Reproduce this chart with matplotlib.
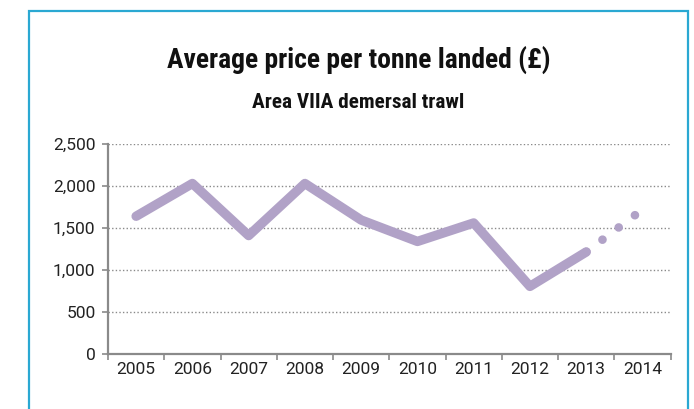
import numpy as np
import matplotlib
matplotlib.use('Agg')
import matplotlib.pyplot as plt
import matplotlib.patches as patches
from matplotlib import font_manager
from matplotlib.font_manager import FontProperties
from matplotlib.ticker import FixedLocator, FuncFormatter

# chart data
years = ['2005', '2006', '2007', '2008', '2009', '2010', '2011', '2012', '2013', '2014']
price = [1640, 2030, 1410, 2030, 1595, 1340, 1560, 805, 1215]   # 2005-2013, solid
forecast = [1215, 1720]                                         # 2013-2014, dotted
y_ticks = [0, 500, 1000, 1500, 2000, 2500]

title = 'Average price per tonne landed (£)'
subtitle = 'Area VIIA demersal trawl'

line_col = '#b1a2c7'
grid_col = '#8a8a8a'
box_col = '#2aa8d2'
tick_font = ['Roboto', 'DejaVu Sans']


# pick the narrowest bold face that is installed for the titles
def pick_title_font():
    fonts = font_manager.fontManager.ttflist
    for fam in ['Liberation Sans Narrow', 'Roboto Condensed', 'Open Sans Condensed',
                'Noto Sans', 'DejaVu Sans']:
        for f in fonts:
            st = f.stretch if isinstance(f.stretch, int) else 500
            cond = ('condensed' in str(f.stretch)) or st < 500 or 'Narrow' in f.name
            wt = f.weight if isinstance(f.weight, int) else (700 if 'bold' in str(f.weight) else 400)
            if f.name == fam and cond and wt >= 600:
                return FontProperties(fname=f.fname)
    return FontProperties(family=['Roboto', 'DejaVu Sans'], weight='bold')


title_fp = pick_title_font()

W, H = 694, 409
fig = plt.figure(figsize=(W / 100, H / 100), dpi=100)

# blue frame round the chart (bottom edge runs off the picture)
fig.patches.append(patches.Rectangle((29 / W, -0.05), (688 - 29) / W, 1.05 - 11 / H,
                                     transform=fig.transFigure, fill=False,
                                     edgecolor=box_col, linewidth=1.6))

t1 = fig.text(358.5 / W, 1 - 68.3 / H, title, ha='center', va='baseline',
              fontproperties=title_fp, fontsize=18.5, color='#111111')
t2 = fig.text(358.5 / W, 1 - 108.3 / H, subtitle, ha='center', va='baseline',
              fontproperties=title_fp, fontsize=13.5, color='#111111')

# fit the titles to the width they have in the reference
renderer = fig.canvas.get_renderer()
for t, target, size in [(t1, 385, 18.5), (t2, 213, 13.5)]:
    w = t.get_window_extent(renderer).width
    t.set_fontsize(size * target / w)

ax = fig.add_axes([108 / W, 1 - 354 / H, (670.6 - 108) / W, (354 - 144) / H])

x = np.arange(len(price))
ax.plot(x, price, color=line_col, linewidth=6.8, solid_capstyle='round',
        solid_joinstyle='round', zorder=3)
xf = np.arange(len(price) - 1, len(price) - 1 + len(forecast))
ax.plot(xf, forecast, color=line_col, linewidth=6.2, linestyle=(0, (0.01, 2.35)),
        dash_capstyle='round', zorder=3)

ax.set_xlim(-0.5, len(years) - 0.5)
ax.set_ylim(0, 2500)

# grid lines
for v in y_ticks[1:]:
    ax.axhline(v, color=grid_col, linewidth=1.0, linestyle=(0, (1, 1.6)), zorder=1)

ax.set_yticks(y_ticks)
ax.yaxis.set_major_formatter(FuncFormatter(lambda v, p: f'{int(v):,}'))
ax.xaxis.set_major_locator(FixedLocator(np.arange(len(years) + 1) - 0.5))
ax.xaxis.set_major_formatter(FuncFormatter(lambda v, p: ''))
ax.xaxis.set_minor_locator(FixedLocator(np.arange(len(years))))
ax.set_xticklabels(years, minor=True)

ax.tick_params(axis='x', which='major', length=4, width=1.2, color=grid_col, direction='out')
ax.tick_params(axis='x', which='minor', length=0, pad=6)
ax.tick_params(axis='y', length=4, width=1.2, color=grid_col, pad=5)
for lab in ax.get_xticklabels(minor=True) + ax.get_yticklabels():
    lab.set_family(tick_font)
    lab.set_fontsize(12.5)
    lab.set_color('#222222')

for s in ['top', 'right']:
    ax.spines[s].set_visible(False)
for s in ['left', 'bottom']:
    ax.spines[s].set_color(grid_col)
    ax.spines[s].set_linewidth(1.6)

fig.savefig('out.png', dpi=100)
